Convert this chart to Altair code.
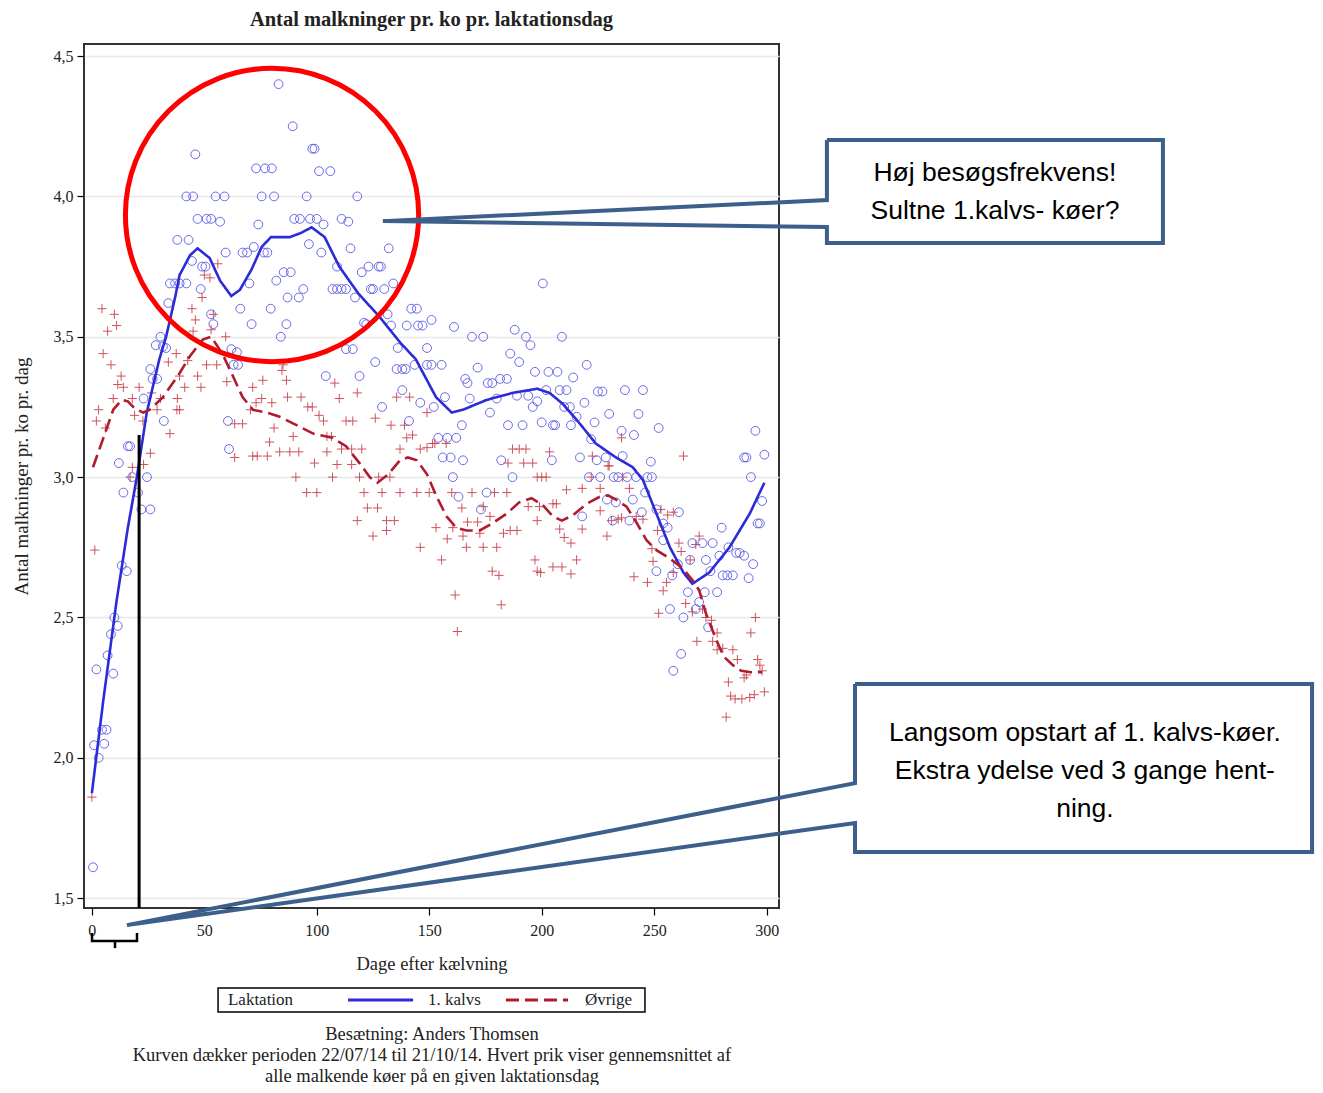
import altair as alt
import pandas as pd

# ---------------- data ----------------
kalvs_points = [
    (0.5, 1.61), (1, 2.045), (3, 2.0), (5.5, 2.05), (4.5, 2.10), (6.5, 2.10), (2, 2.315), (9.5, 2.30),
    (7, 2.365), (8.5, 2.44), (10, 2.50), (11.5, 2.47), (13.3, 2.685), (15.5, 2.665), (22, 2.885), (26, 2.885),
    (14, 2.945), (20.5, 2.945), (18, 3.0), (24.5, 3.0), (12, 3.05), (16, 3.11), (17, 3.11), (32, 3.20),
    (23, 3.28), (27, 3.35), (29, 3.35), (26, 3.385), (28.4, 3.47), (31.6, 3.465), (33, 3.46), (30.5, 3.50),
    (34, 3.62), (34.7, 3.69), (37, 3.69), (39, 3.69), (42, 3.69), (38, 3.845), (43, 3.845), (42, 4.0),
    (45, 4.0), (46, 4.15), (44.5, 3.77), (47, 3.92), (49, 3.75), (50.5, 3.75), (48.4, 3.67), (51, 3.92),
    (53, 3.92), (57, 3.91), (55, 4.0), (59, 4.0), (53, 3.58), (54, 3.545), (59.5, 3.80), (62, 3.456),
    (64.5, 3.445), (63, 3.40), (65, 3.40), (60.5, 3.20), (61, 3.10), (66, 3.60), (67, 3.80), (69, 3.80),
    (70, 3.69), (71, 3.545), (72, 3.82), (73, 4.10), (74, 3.90), (75.5, 4.0), (76.5, 3.80), (77, 4.10),
    (78, 3.80), (79.5, 3.60), (80, 4.10), (81, 4.0), (82, 3.70), (83, 4.40), (84, 3.50), (85.3, 3.73),
    (86.5, 3.545), (87, 3.64), (88.4, 3.73), (89.3, 4.25), (90, 3.92), (92, 3.64), (92.5, 3.92), (94, 3.67),
    (95.5, 4.0), (96.5, 3.83), (97, 3.92), (98, 4.17), (99, 4.17), (100, 3.92), (101, 4.09), (102, 3.80),
    (103, 3.90), (106, 4.09), (107, 3.67), (109, 3.67), (109, 3.75), (111, 3.67), (111, 3.92), (113, 3.67),
    (114, 3.91), (115, 3.815), (117, 3.64), (118, 4.0), (120, 3.73), (121, 3.55), (122, 3.545), (123, 3.75),
    (124, 3.67), (125, 3.67), (127.5, 3.75), (128.5, 3.75), (130, 3.67), (131.5, 3.58), (132, 3.815), (133, 3.54),
    (134, 3.69), (113, 3.456), (116, 3.456), (136, 3.46), (140, 3.54), (142, 3.60), (144.5, 3.60), (145, 3.54),
    (147, 3.54), (151, 3.56), (149, 3.46), (126, 3.41), (135.5, 3.385), (138, 3.385), (139.5, 3.385), (143.5, 3.40),
    (149, 3.40), (151, 3.40), (155.5, 3.40), (104, 3.36), (119, 3.36), (161, 3.535), (169, 3.50), (174, 3.50),
    (171.5, 3.39), (166, 3.35), (167, 3.335), (176, 3.335), (178, 3.335), (181.5, 3.35), (184.5, 3.35), (188, 3.525),
    (193, 3.50), (195, 3.47), (186, 3.44), (190, 3.41), (197, 3.375), (138, 3.31), (157, 3.285), (168, 3.28),
    (180, 3.28), (129, 3.25), (146, 3.265), (152, 3.25), (177, 3.23), (189, 3.29), (194, 3.29), (196, 3.25),
    (198, 3.27), (141, 3.20), (164.5, 3.185), (185, 3.185), (191.5, 3.185), (154, 3.14), (158, 3.14), (162, 3.14),
    (156, 3.07), (159.5, 3.07), (165, 3.06), (182, 3.06), (160.5, 3.0), (187, 3.0), (175.5, 2.945), (163, 2.93),
    (173, 2.885), (200.5, 3.69), (209, 3.50), (203, 3.375), (207, 3.375), (214, 3.355), (220, 3.40), (202, 3.31),
    (208, 3.31), (211, 3.31), (225, 3.305), (227, 3.305), (237, 3.31), (245, 3.31), (210, 3.25), (212.5, 3.25),
    (215.5, 3.215), (219, 3.265), (230, 3.225), (243, 3.225), (200, 3.195), (205, 3.185), (206, 3.185), (213, 3.185),
    (223.5, 3.195), (235.5, 3.165), (241, 3.15), (252, 3.175), (222, 3.135), (295, 3.165), (204.5, 3.06), (217, 3.07),
    (224.5, 3.06), (228.5, 3.07), (236, 3.075), (248.5, 3.055), (290, 3.07), (291, 3.07), (299, 3.08), (221, 3.0),
    (226, 3.0), (232, 3.0), (234, 3.0), (238, 3.0), (242, 3.0), (247, 3.0), (249, 3.0), (293, 3.0),
    (229, 2.92), (233, 2.91), (240.5, 2.92), (246, 2.945), (298, 2.915), (218, 2.86), (231.5, 2.845), (239, 2.845),
    (244.5, 2.875), (251, 2.885), (261, 2.875), (254, 2.835), (256, 2.82), (296, 2.835), (297, 2.835), (280, 2.82),
    (254, 2.775), (267, 2.765), (271.5, 2.765), (276, 2.765), (283, 2.75), (288, 2.73), (286.5, 2.73), (279, 2.72),
    (290, 2.72), (266, 2.705), (273, 2.705), (294, 2.69), (251, 2.665), (258, 2.65), (260.5, 2.69), (275, 2.665),
    (280.5, 2.65), (282.5, 2.65), (285, 2.65), (292, 2.64), (265, 2.59), (272.5, 2.59), (278, 2.59), (268.5, 2.53),
    (270, 2.555), (257, 2.53), (263, 2.50), (274, 2.465), (262, 2.37), (258.5, 2.31),
]

ovrige_points = [
    (0, 1.86), (1.3, 2.74), (2, 3.20), (3, 3.24), (6, 3.175), (4.5, 3.60), (10, 3.58), (11, 3.54),
    (7, 3.52), (5, 3.44), (8.5, 3.40), (13, 3.36), (14, 3.32), (11.5, 3.33), (21, 3.32), (9.5, 3.28),
    (18, 3.28), (26.5, 3.30), (30.5, 3.28), (38, 3.28), (19, 3.22), (22.7, 3.20), (29, 3.24), (37.8, 3.24),
    (39, 3.24), (34.7, 3.155), (26, 3.085), (23, 3.045), (18, 3.035), (17, 3.0), (37.5, 3.44), (34, 3.41),
    (42.6, 3.415), (39, 3.36), (47, 3.36), (48.5, 3.32), (41.3, 3.32), (44.5, 3.60), (46, 3.56), (45, 3.52),
    (53, 3.525), (54, 3.58), (59.5, 3.50), (56, 3.76), (50, 3.72), (52.5, 3.71), (49, 3.64), (51, 3.40),
    (55.5, 3.40), (60, 3.34), (71.5, 3.32), (76, 3.345), (86.5, 3.345), (84.5, 3.38), (85, 3.40), (63.5, 3.19),
    (67, 3.19), (75.5, 3.28), (80, 3.265), (73, 3.265), (70.5, 3.24), (87, 3.285), (93, 3.285), (96, 3.25),
    (98, 3.25), (101, 3.22), (81, 3.175), (89.5, 3.145), (79, 3.125), (83.5, 3.09), (88, 3.09), (92, 3.09),
    (71.5, 3.075), (73.5, 3.075), (78, 3.075), (63.5, 3.07), (90.7, 3.0), (99, 3.05), (95.5, 2.945), (100, 2.945),
    (108, 3.335), (110, 3.28), (118, 3.30), (103, 3.20), (113, 3.20), (116, 3.20), (126, 3.21), (135.5, 3.285),
    (141.3, 3.285), (149, 3.23), (133, 3.185), (139, 3.185), (104.5, 3.145), (106.5, 3.145), (111, 3.10), (115.5, 3.10),
    (120, 3.10), (104.5, 3.09), (140, 3.14), (142.6, 3.15), (137, 3.10), (146, 3.10), (149, 3.105), (151.5, 3.12),
    (152.5, 3.12), (157.5, 3.12), (109, 3.045), (115.5, 3.045), (107, 3.0), (119, 3.0), (127.5, 3.0), (132.5, 3.0),
    (121, 2.945), (129, 2.945), (137, 2.945), (144.5, 2.945), (150, 2.945), (122.5, 2.89), (127, 2.89), (118, 2.845),
    (131, 2.845), (134.5, 2.845), (125, 2.79), (131, 2.81), (160, 2.945), (169, 2.945), (179, 2.945), (184.5, 2.945),
    (164.5, 2.89), (174, 2.895), (153, 2.82), (160.5, 2.82), (167, 2.84), (171.5, 2.84), (177, 2.86), (172.5, 2.80),
    (165, 2.79), (158, 2.78), (183, 2.80), (186, 2.81), (189, 2.81), (146, 2.75), (166.5, 2.75), (174, 2.75),
    (180, 2.75), (155.5, 2.705), (178, 2.665), (181, 2.65), (197, 2.705), (198, 2.665), (161.5, 2.58), (162.5, 2.45),
    (182, 2.545), (187, 3.10), (190, 3.10), (193, 3.10), (185, 3.05), (192, 3.05), (196, 3.05), (198, 3.0),
    (194, 2.895), (199, 2.895), (198, 2.845), (203.5, 3.09), (200, 3.0), (202, 3.0), (222.5, 3.075), (229.5, 3.04),
    (230, 3.04), (235.5, 3.14), (263, 3.075), (211, 2.955), (218, 2.96), (226, 2.96), (239, 2.96), (222, 3.0),
    (236, 3.0), (205, 2.905), (206.5, 2.905), (208, 2.815), (210, 2.785), (213, 2.765), (218, 2.815), (226, 2.88),
    (231, 2.845), (234, 2.85), (235.5, 2.855), (242, 2.86), (245, 2.85), (229, 2.79), (199.5, 2.66), (205, 2.68),
    (209, 2.68), (213, 2.655), (215.5, 2.705), (251.5, 2.81), (253, 2.885), (249, 2.745), (249.5, 2.70), (261, 2.765),
    (262, 2.735), (266, 2.705), (270, 2.79), (268.5, 2.76), (241, 2.645), (247, 2.625), (255.5, 2.625), (254, 2.595),
    (258.5, 2.66), (256, 2.865), (258.5, 2.875), (264, 2.55), (267, 2.52), (252, 2.515), (271.5, 2.53), (273, 2.50),
    (275.5, 2.49), (269, 2.415), (276, 2.415), (278, 2.445), (280.5, 2.39), (285, 2.385), (287, 2.35), (278, 2.385),
    (295, 2.50), (293, 2.445), (296, 2.35), (297, 2.33), (298, 2.31), (299, 2.235), (291, 2.295), (290, 2.285),
    (283, 2.27), (284, 2.22), (286, 2.21), (289, 2.21), (292.5, 2.215), (294.5, 2.225), (282, 2.145),
]

kalvs_curve = [
    (0, 1.874), (5, 2.20), (11, 2.56), (16, 2.82), (20, 3.0), (24.4, 3.23), (30, 3.42), (33, 3.50),
    (37, 3.64), (39, 3.72), (43.6, 3.79), (47, 3.815), (52.4, 3.78), (57, 3.70), (62, 3.645), (65.8, 3.667),
    (71, 3.74), (75.5, 3.82), (79.6, 3.855), (88, 3.855), (93, 3.87), (97.7, 3.89), (103.5, 3.855), (110, 3.75),
    (118.4, 3.655), (128, 3.57), (137, 3.48), (144, 3.42), (153, 3.285), (160, 3.23), (165, 3.24), (175.5, 3.275),
    (187, 3.30), (198, 3.315), (203.5, 3.30), (209.5, 3.26), (217, 3.19), (224, 3.12), (233, 3.07), (240.5, 3.035),
    (245, 2.99), (251, 2.87), (257, 2.75), (263, 2.66), (267, 2.62), (274.5, 2.66), (283.5, 2.75), (292.5, 2.87),
    (299, 2.98),
]

ovrige_curve = [
    (0.5, 3.035), (5.8, 3.155), (9.5, 3.24), (13.3, 3.275), (16, 3.27), (19, 3.245), (22.8, 3.23), (25.8, 3.24),
    (31.6, 3.285), (39, 3.37), (43.5, 3.43), (49.3, 3.49), (53, 3.50), (58, 3.44), (62.7, 3.36), (67, 3.285),
    (71.6, 3.24), (77.7, 3.23), (83.5, 3.215), (91, 3.185), (98.4, 3.155), (107, 3.14), (113, 3.11), (119, 3.05),
    (123.5, 3.0), (127, 2.98), (131.7, 3.01), (137, 3.06), (140.5, 3.07), (144.5, 3.06), (149, 3.01), (153.3, 2.93),
    (157.7, 2.86), (162, 2.82), (166.5, 2.81), (172.5, 2.81), (178, 2.835), (184.4, 2.87), (190, 2.91), (195.5, 2.925),
    (200.5, 2.90), (205, 2.86), (209, 2.845), (214, 2.865), (220, 2.905), (225.8, 2.93), (229.5, 2.935), (233, 2.92),
    (237.7, 2.895), (242, 2.84), (246.6, 2.775), (251, 2.74), (257, 2.71), (262.7, 2.675), (267, 2.633), (270, 2.597),
    (273, 2.515), (277.6, 2.42), (281, 2.36), (285, 2.33), (288.7, 2.31), (293, 2.305), (298, 2.305),
]

group_names = ["1. kalvs", "Øvrige"]
group_colors = ["#2b2bd8", "#b01c2e"]
group_dashes = [[1, 0], [13, 6]]
x_ticks = [0, 50, 100, 150, 200, 250, 300]
y_ticks = [1.5, 2.0, 2.5, 3.0, 3.5, 4.0, 4.5]

title_text = "Antal malkninger pr. ko pr. laktationsdag"
x_title = "Dage efter kælvning"
y_title = "Antal malkninger pr. ko pr. dag"
legend_title = "Laktation"
footnote_lines = [
    "Besætning: Anders Thomsen",
    "Kurven dækker perioden 22/07/14 til 21/10/14. Hvert prik viser gennemsnittet af",
    "alle malkende køer på en given laktationsdag",
]
box1_lines = ["Høj besøgsfrekvens!", "Sultne 1.kalvs- køer?"]
box2_lines = ["Langsom opstart af 1. kalvs-køer.", "Ekstra ydelse ved 3 gange hent-", "ning."]

# annotation geometry, in axis units (day, value)
highlight_center = (80.1, 3.934)
marker_day = 21
marker_top = 3.15
callout1_path = [(326.8, 4.201), (476.2, 4.201), (476.2, 3.834), (326.8, 3.834), (326.8, 3.891),
                 (129.4, 3.912), (326.8, 3.987), (326.8, 4.201)]
callout2_path = [(339.3, 2.263), (542.5, 2.263), (542.5, 1.6645), (339.3, 1.6645), (339.3, 1.768),
                 (15.6, 1.404), (339.3, 1.910), (339.3, 2.263)]
bracket_path = [(0.06, 1.376), (0.06, 1.347), (20.06, 1.347), (20.06, 1.376)]
bracket_tick = [(10.28, 1.347), (10.28, 1.322)]
box1_text_pos = (401.5, [4.083, 3.948])
box2_text_pos = (441.5, [2.088, 1.953, 1.818])
footnote_pos = (151.2, [1.016, 0.941, 0.8665])
legend_box = (56.1, 245.9, 1.180, 1.0945)
legend_row = 1.137
legend_title_x = 60.5
legend_seg = [(113.9, 142.8), (184.1, 211.7)]
legend_label_x = [149.4, 219.2]

# ---------------- frames ----------------
df_k = pd.DataFrame(kalvs_points, columns=["day", "val"])
df_o = pd.DataFrame(ovrige_points, columns=["day", "val"])
df_curves = pd.concat([
    pd.DataFrame(kalvs_curve, columns=["day", "val"]).assign(grp=group_names[0]),
    pd.DataFrame(ovrige_curve, columns=["day", "val"]).assign(grp=group_names[1]),
])
rows = []
for pid, path in (("c1", callout1_path), ("c2", callout2_path)):
    for i, (d, v) in enumerate(path):
        rows.append({"day": d, "val": v, "pid": pid, "o": i})
df_callout = pd.DataFrame(rows)
rows = []
for pid, path in (("b1", bracket_path), ("b2", bracket_tick)):
    for i, (d, v) in enumerate(path):
        rows.append({"day": d, "val": v, "pid": pid, "o": i})
df_bracket = pd.DataFrame(rows)
df_text_sans = pd.DataFrame(
    [{"day": box1_text_pos[0], "val": y, "t": t} for y, t in zip(box1_text_pos[1], box1_lines)]
    + [{"day": box2_text_pos[0], "val": y, "t": t} for y, t in zip(box2_text_pos[1], box2_lines)]
)
df_foot = pd.DataFrame([{"day": footnote_pos[0], "val": y, "t": t} for y, t in zip(footnote_pos[1], footnote_lines)])
df_circle = pd.DataFrame([{"day": highlight_center[0], "val": highlight_center[1]}])
df_marker = pd.DataFrame([{"day": marker_day, "val": marker_top, "val2": 1.465}])
df_leg_box = pd.DataFrame([{"day": legend_box[0], "day2": legend_box[1], "val": legend_box[2], "val2": legend_box[3]}])
df_leg_seg = pd.DataFrame([{"day": a, "day2": b, "val": legend_row, "grp": g}
                           for (a, b), g in zip(legend_seg, group_names)])
df_leg_txt = pd.DataFrame([{"day": legend_title_x, "val": legend_row, "t": legend_title}]
                          + [{"day": x, "val": legend_row, "t": g} for x, g in zip(legend_label_x, group_names)])

SERIF = "Liberation Serif"
SANS = "Liberation Sans"

xs = alt.Scale(domain=[-3.5, 305.5], nice=False, zero=False)
ys = alt.Scale(domain=[1.465, 4.543], nice=False, zero=False)
x_axis = alt.Axis(values=x_ticks, title=x_title, grid=False, domain=False, tickSize=7, tickColor="black",
                  tickWidth=1.2, labelFont=SERIF, labelFontSize=16, labelColor="#222", labelPadding=7,
                  titleFont=SERIF, titleFontSize=18.5, titleFontWeight="normal", titleColor="#222", titlePadding=16)
y_axis = alt.Axis(values=y_ticks, title=y_title, grid=True, gridColor="#e8e8e8", gridWidth=1.5, domain=False,
                  tickSize=7, tickColor="black", tickWidth=1.2,
                  labelExpr="replace(format(datum.value, '.1f'), '.', ',')",
                  labelFont=SERIF, labelFontSize=16, labelColor="#222", labelPadding=4,
                  titleFont=SERIF, titleFontSize=19, titleFontWeight="normal", titleColor="#222", titlePadding=22)

color_scale = alt.Scale(domain=group_names, range=group_colors)
dash_scale = alt.Scale(domain=group_names, range=group_dashes)


def X():
    return alt.X("day:Q", scale=xs, axis=x_axis)


def Y():
    return alt.Y("val:Q", scale=ys, axis=y_axis)


pts_o = alt.Chart(df_o).mark_point(shape="M-1,0L1,0M0,-1L0,1", filled=False, size=85, stroke="#c9404c",
                                   strokeWidth=1, opacity=0.9).encode(x=X(), y=Y())
pts_k = alt.Chart(df_k).mark_point(shape="circle", filled=False, size=78, stroke="#5a5ae8",
                                   strokeWidth=1, opacity=0.9).encode(x=X(), y=Y())

curves = alt.Chart(df_curves).mark_line(strokeWidth=2.6).encode(
    x=X(), y=Y(),
    color=alt.Color("grp:N", scale=color_scale, legend=None),
    strokeDash=alt.StrokeDash("grp:N", scale=dash_scale, legend=None),
    order=alt.Order("day:Q"),
)

marker = alt.Chart(df_marker).mark_rule(color="black", strokeWidth=3).encode(x=X(), y=Y(), y2="val2:Q")

circle = alt.Chart(df_circle).mark_point(shape="circle", filled=False, size=86000, stroke="#ff0000",
                                         strokeWidth=5, opacity=1).encode(x=X(), y=Y())

callouts = alt.Chart(df_callout).mark_line(color="#3d5f8b", strokeWidth=4, clip=False, strokeJoin="miter").encode(
    x=X(), y=Y(), detail="pid:N", order="o:Q")

bracket = alt.Chart(df_bracket).mark_line(color="black", strokeWidth=2.5, clip=False).encode(
    x=X(), y=Y(), detail="pid:N", order="o:Q")

box_text = alt.Chart(df_text_sans).mark_text(font=SANS, fontSize=26.5, color="black", clip=False,
                                             baseline="middle", align="center").encode(x=X(), y=Y(), text="t:N")

foot_text = alt.Chart(df_foot).mark_text(font=SERIF, fontSize=18.5, color="#222", clip=False,
                                         baseline="middle", align="center").encode(x=X(), y=Y(), text="t:N")

# legend drawn as a framed row under the axis title
leg_box = alt.Chart(df_leg_box).mark_rect(fillOpacity=0, stroke="black", strokeWidth=1.5, clip=False).encode(
    x=X(), x2="day2:Q", y=Y(), y2="val2:Q")
leg_seg = alt.Chart(df_leg_seg).mark_rule(strokeWidth=3, clip=False).encode(
    x=X(), x2="day2:Q", y=Y(),
    color=alt.Color("grp:N", scale=color_scale, legend=None),
    strokeDash=alt.StrokeDash("grp:N", scale=dash_scale, legend=None))
leg_txt = alt.Chart(df_leg_txt).mark_text(font=SERIF, fontSize=17, color="#222", clip=False, align="left",
                                          baseline="middle").encode(x=X(), y=Y(), text="t:N")

chart = alt.layer(pts_o, pts_k, curves, marker, circle, callouts, bracket, box_text, foot_text,
                  leg_box, leg_seg, leg_txt).properties(
    width=695, height=864,
    title=alt.TitleParams(title_text, font=SERIF, fontSize=20.5, fontWeight="bold", color="#222",
                          anchor="middle", offset=14),
    autosize=alt.AutoSizeParams(type="none"),
    padding={"left": 76, "top": 36, "right": 536, "bottom": 177},
).configure_view(stroke="#333", strokeWidth=2)

chart.save("out.html", embed_options={"renderer": "svg", "actions": False})
